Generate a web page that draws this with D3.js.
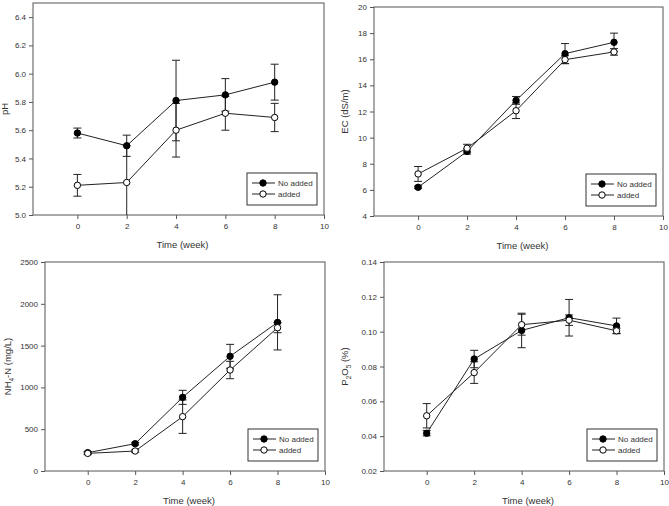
<!DOCTYPE html>
<html>
<head>
<meta charset="utf-8">
<script src="https://cdn.jsdelivr.net/npm/d3@7"></script>
<style>
	body { margin: 0; background: #fff; }
	svg { display: block; font-family: "Liberation Sans", Arial, sans-serif; }
</style>
</head>
<body>
<div id="chart"></div>
<script>
/*
*	Data
*/
var weeks = [0, 2, 4, 6, 8];
var xTicks = [0, 2, 4, 6, 8, 10];
var seriesNames = ['No added', 'added'];

var phNoAdded = [5.58, 5.49, 5.81, 5.85, 5.94];
var phNoAddedErr = [0.035, 0.075, 0.285, 0.115, 0.127];
var phAdded = [5.21, 5.23, 5.60, 5.72, 5.69];
var phAddedErr = [0.077, 0.26, 0.19, 0.12, 0.10];
var phTicks = [5.0, 5.2, 5.4, 5.6, 5.8, 6.0, 6.2, 6.4];

var ecNoAdded = [6.2, 8.94, 12.85, 16.43, 17.3];
var ecNoAddedErr = [0.1, 0.2, 0.3, 0.77, 0.7];
var ecAdded = [7.22, 9.19, 12.06, 15.97, 16.56];
var ecAddedErr = [0.57, 0.3, 0.6, 0.3, 0.25];
var ecTicks = [4, 6, 8, 10, 12, 14, 16, 18, 20];

var nhNoAdded = [219, 327, 881, 1372, 1778];
var nhNoAddedErr = [15, 15, 84, 143, 330];
var nhAdded = [211, 239, 650, 1208, 1714];
var nhAddedErr = [15, 15, 200, 104, 60];
var nhTicks = [0, 500, 1000, 1500, 2000, 2500];

var pNoAdded = [0.0417, 0.0843, 0.1007, 0.108, 0.1033];
var pNoAddedErr = [0.0015, 0.005, 0.0099, 0.0105, 0.0045];
var pAdded = [0.0517, 0.0765, 0.104, 0.1066, 0.1005];
var pAddedErr = [0.007, 0.0062, 0.006, 0.003, 0.0015];
var pTicks = [0.02, 0.04, 0.06, 0.08, 0.10, 0.12, 0.14];

/*
*	Layout
*/
var W = 669, H = 506;
var svg = d3.select('#chart').append('svg').attr('width', W).attr('height', H);
svg.append('rect').attr('width', W).attr('height', H).attr('fill', '#fff');

var panels = [
	{ id: 'ph', box: [33, 3, 324, 215], dom: [5.0, 6.5], ticks: phTicks, fmt: d3.format('.1f'),
		a: phNoAdded, ae: phNoAddedErr, b: phAdded, be: phAddedErr, label: [{ t: 'pH' }], labelDx: 28 },
	{ id: 'ec', box: [374, 7, 663, 216], dom: [4, 20], ticks: ecTicks, fmt: d3.format('d'),
		a: ecNoAdded, ae: ecNoAddedErr, b: ecAdded, be: ecAddedErr, label: [{ t: 'EC (dS/m)' }], labelDx: 29 },
	{ id: 'nh', box: [45, 262, 325, 471], dom: [0, 2500], ticks: nhTicks, fmt: d3.format('d'),
		a: nhNoAdded, ae: nhNoAddedErr, b: nhAdded, be: nhAddedErr,
		label: [{ t: 'NH' }, { t: '4', sub: true }, { t: '-N (mg/L)' }], labelDx: 37 },
	{ id: 'p', box: [384, 262, 664, 471], dom: [0.02, 0.14], ticks: pTicks, fmt: d3.format('.2f'),
		a: pNoAdded, ae: pNoAddedErr, b: pAdded, be: pAddedErr,
		label: [{ t: 'P' }, { t: '2', sub: true }, { t: 'O' }, { t: '5', sub: true }, { t: ' (%)' }], labelDx: 39 }
];

var axisColor = '#555';
var textColor = '#333';

panels.forEach(function (p) {
	var x0 = p.box[0], y0 = p.box[1], x1 = p.box[2], y1 = p.box[3];
	var x = d3.scaleLinear().domain([-1.8, 10]).range([x0, x1]);
	var y = d3.scaleLinear().domain(p.dom).range([y1, y0]);
	var g = svg.append('g');

	g.append('clipPath').attr('id', 'clip-' + p.id)
		.append('rect').attr('x', x0).attr('y', y0).attr('width', x1 - x0).attr('height', y1 - y0);

	// axes
	var xAxis = d3.axisBottom(x).tickValues(xTicks).tickSize(4).tickPadding(4).tickFormat(d3.format('d'));
	var yAxis = d3.axisLeft(y).tickValues(p.ticks).tickSize(4).tickPadding(3).tickFormat(p.fmt);

	var gx = g.append('g').attr('transform', 'translate(0,' + y1 + ')').call(xAxis);
	var gy = g.append('g').attr('transform', 'translate(' + x0 + ',0)').call(yAxis);
	[gx, gy].forEach(function (ax) {
		ax.select('.domain').remove();
		ax.selectAll('line').attr('stroke', axisColor);
		ax.selectAll('text').attr('fill', textColor).style('font-size', '8px');
	});

	g.append('rect').attr('x', x0).attr('y', y0).attr('width', x1 - x0).attr('height', y1 - y0)
		.attr('fill', 'none').attr('stroke', axisColor).attr('stroke-width', 1);

	// axis titles
	g.append('text').attr('x', (x0 + x1) / 2 + 4).attr('y', y1 + 33)
		.attr('text-anchor', 'middle').attr('fill', textColor).style('font-size', '9.5px')
		.text('Time (week)');

	var yl = g.append('text')
		.attr('transform', 'translate(' + (x0 - p.labelDx + 3) + ',' + (y0 + y1) / 2 + ') rotate(-90)')
		.attr('text-anchor', 'middle').attr('fill', textColor).style('font-size', '9.5px');
	p.label.forEach(function (s) {
		var ts = yl.append('tspan').text(s.t);
		if (s.sub) ts.attr('baseline-shift', '-3').style('font-size', '6.5px');
	});

	// series
	var clipped = g.append('g').attr('clip-path', 'url(#clip-' + p.id + ')');
	var line = d3.line().x(function (d) { return x(d[0]); }).y(function (d) { return y(d[1]); });

	[[p.a, p.ae, '#000'], [p.b, p.be, '#fff']].forEach(function (s) {
		var pts = weeks.map(function (w, i) { return [w, s[0][i], s[1][i]]; });

		clipped.append('path').datum(pts).attr('d', line)
			.attr('fill', 'none').attr('stroke', '#222').attr('stroke-width', 1);

		var eb = clipped.selectAll(null).data(pts).enter().append('g').attr('stroke', '#222').attr('stroke-width', 1);
		eb.append('line')
			.attr('x1', function (d) { return x(d[0]); }).attr('x2', function (d) { return x(d[0]); })
			.attr('y1', function (d) { return y(d[1] - d[2]); }).attr('y2', function (d) { return y(d[1] + d[2]); });
		[-1, 1].forEach(function (sign) {
			eb.append('line')
				.attr('x1', function (d) { return x(d[0]) - 4; }).attr('x2', function (d) { return x(d[0]) + 4; })
				.attr('y1', function (d) { return y(d[1] + sign * d[2]); })
				.attr('y2', function (d) { return y(d[1] + sign * d[2]); });
		});

		g.selectAll(null).data(pts).enter().append('circle')
			.attr('cx', function (d) { return x(d[0]); }).attr('cy', function (d) { return y(d[1]); })
			.attr('r', 3.2).attr('fill', s[2]).attr('stroke', '#000').attr('stroke-width', 1);
	});

	// legend
	var lw = 70, lh = 32;
	var lx = x1 - 7 - lw, ly = y1 - 10 - lh;
	var lg = g.append('g').attr('transform', 'translate(' + lx + ',' + ly + ')');
	lg.append('rect').attr('width', lw).attr('height', lh)
		.attr('fill', '#fff').attr('stroke', '#333').attr('stroke-width', 1);
	seriesNames.forEach(function (name, i) {
		var ry = 10 + i * 11;
		lg.append('line').attr('x1', 5).attr('x2', 28).attr('y1', ry).attr('y2', ry)
			.attr('stroke', '#222').attr('stroke-width', 1);
		lg.append('circle').attr('cx', 16).attr('cy', ry).attr('r', 3.2)
			.attr('fill', i === 0 ? '#000' : '#fff').attr('stroke', '#000');
		lg.append('text').attr('x', 31).attr('y', ry + 3).attr('fill', textColor)
			.style('font-size', '8px').text(name);
	});
});
</script>
</body>
</html>
